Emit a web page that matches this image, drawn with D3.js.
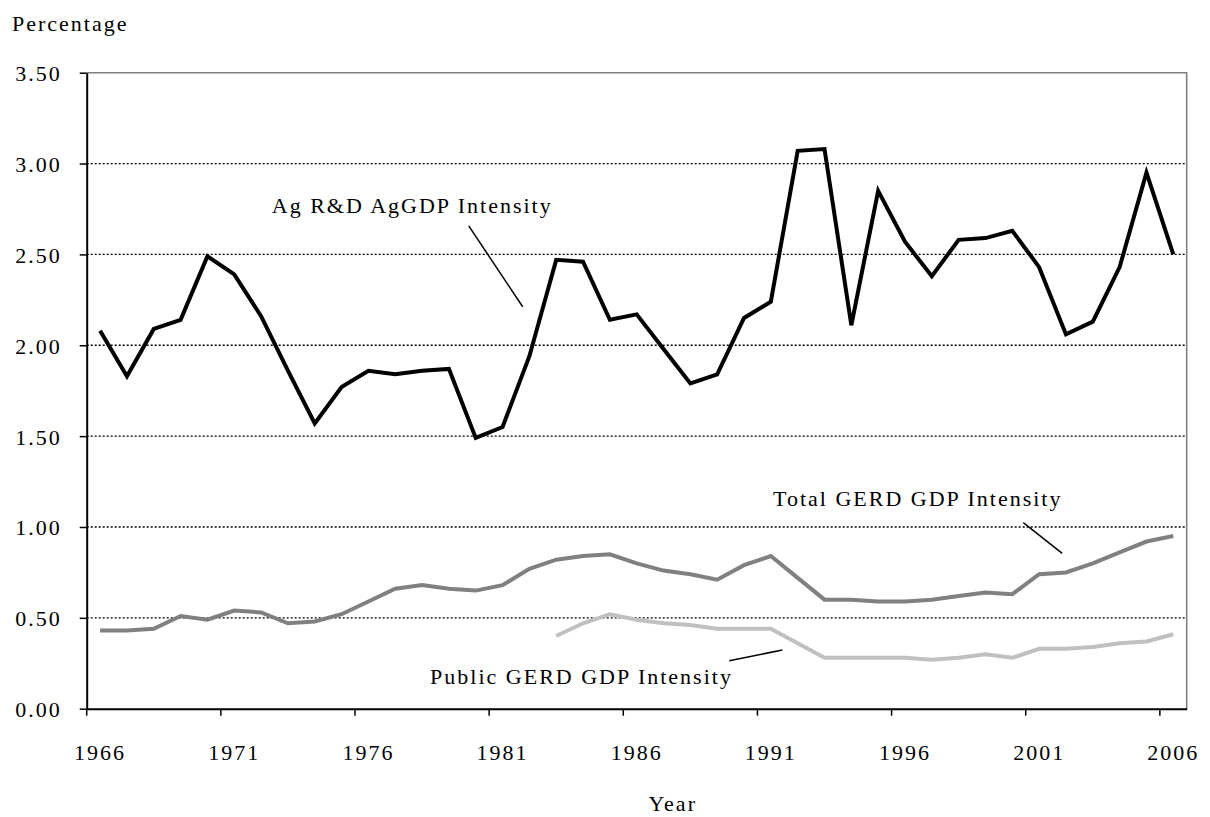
<!DOCTYPE html>
<html>
<head>
    <style>
        body { margin: 0; background: #fff; }
        svg text {
            font-family: "Liberation Serif", "Times New Roman", serif;
            font-size: 22px;
            letter-spacing: 2px;
            fill: #000;
        }
        .grid line { stroke: #000; stroke-width: 1.3; stroke-dasharray: 2,2; }
    </style>
    <script src="https://d3js.org/d3.v7.min.js"></script>
</head>
<body>
    <svg width="1210" height="817"></svg>

    <script>
        // data
        var years = d3.range(1966, 2007);
        var agIntensity = [2.08,1.83,2.09,2.14,2.49,2.39,2.16,1.86,1.57,1.77,1.86,1.84,1.86,1.87,1.49,1.55,1.94,2.47,2.46,2.14,
                           2.17,1.98,1.79,1.84,2.15,2.24,3.07,3.08,2.11,2.85,2.57,2.38,2.58,2.59,2.63,2.43,2.06,2.13,2.43,2.95,2.50];
        var totalGerd = [0.43,0.43,0.44,0.51,0.49,0.54,0.53,0.47,0.48,0.52,0.59,0.66,0.68,0.66,0.65,0.68,0.77,0.82,0.84,0.85,
                         0.80,0.76,0.74,0.71,0.79,0.84,0.72,0.60,0.60,0.59,0.59,0.60,0.62,0.64,0.63,0.74,0.75,0.80,0.86,0.92,0.95];
        var publicGerd = [null,null,null,null,null,null,null,null,null,null,null,null,null,null,null,null,null,
                          0.40,0.47,0.52,0.49,0.47,0.46,0.44,0.44,0.44,0.36,0.28,0.28,0.28,0.28,0.27,0.28,0.30,0.28,0.33,0.33,0.34,0.36,0.37,0.41];
        var yTicks = [0, 0.5, 1, 1.5, 2, 2.5, 3, 3.5];
        var xLabels = [1966, 1971, 1976, 1981, 1986, 1991, 1996, 2001, 2006];

        var svg = d3.select("svg"),
            plotL = 86.7, plotR = 1186.7, plotT = 72.7, plotB = 708.7;

        var x = d3.scaleBand().domain(years).range([plotL, plotR]).padding(0);
        var bw = x.bandwidth();
        // position in band units, used for the callouts
        var xu = d3.scaleLinear().domain([0, years.length]).range([plotL, plotR]);
        var y = d3.scaleLinear().domain([0, 3.5]).range([plotB, plotT]);

        // gridlines
        svg.append("g").attr("class", "grid")
           .selectAll("line")
           .data(yTicks.filter(function(d) { return d > 0 && d < 3.5; }))
           .enter().append("line")
           .attr("x1", plotL).attr("x2", plotR)
           .attr("y1", function(d) { return y(d); })
           .attr("y2", function(d) { return y(d); });

        // plot border (top and right)
        svg.append("path")
           .attr("d", "M" + plotL + "," + plotT + "H" + plotR + "V" + plotB)
           .attr("fill", "none").attr("stroke", "#808080").attr("stroke-width", 1.6);

        // y axis
        var yAxis = svg.append("g")
           .attr("transform", "translate(" + plotL + ",0)")
           .call(d3.axisLeft(y).tickValues(yTicks).tickFormat(d3.format(".2f")).tickSize(7).tickPadding(18).tickSizeOuter(0));
        yAxis.select(".domain").attr("stroke", "#000").attr("stroke-width", 2);
        yAxis.selectAll(".tick line").attr("stroke", "#000").attr("stroke-width", 1.5);
        yAxis.selectAll("text").attr("font-family", null).attr("font-size", null).attr("dy", "0.36em");

        // x axis, ticks between categories
        var xAxis = svg.append("g")
           .attr("transform", "translate(0," + plotB + ")")
           .call(d3.axisBottom(x).tickValues(xLabels).tickSize(7).tickSizeOuter(0));
        xAxis.select(".domain").attr("stroke", "#000").attr("stroke-width", 2);
        xAxis.selectAll(".tick line")
             .attr("x1", -bw / 2).attr("x2", -bw / 2)
             .attr("stroke", "#000").attr("stroke-width", 1.5);
        xAxis.selectAll("text")
             .attr("font-family", null).attr("font-size", null)
             .attr("y", 51).attr("dy", 0);

        // axis titles
        svg.append("text").attr("x", 12).attr("y", 31).text("Percentage");
        svg.append("text").attr("x", (plotL + plotR) / 2 + 36).attr("y", 811)
           .attr("text-anchor", "middle").text("Year");

        // lines
        function drawLine(values, color) {
            var line = d3.line()
                .defined(function(d) { return d != null; })
                .x(function(d, i) { return x(years[i]) + bw / 2; })
                .y(function(d) { return y(d); });
            svg.append("path")
               .datum(values)
               .attr("d", line)
               .attr("fill", "none")
               .attr("stroke", color)
               .attr("stroke-width", 4)
               .attr("stroke-linejoin", "miter");
        }
        drawLine(totalGerd, "#808080");
        drawLine(publicGerd, "#c0c0c0");
        drawLine(agIntensity, "#000");

        // callouts: text position and leader line, in band units / values
        var notes = [
            { text: "Ag R&D AgGDP Intensity", tx: 6.90, ty: 2.73, l: [14.24, 2.657, 16.25, 2.212] },
            { text: "Total GERD GDP Intensity", tx: 25.58, ty: 1.116, l: [34.91, 1.024, 36.36, 0.855] },
            { text: "Public GERD GDP Intensity", tx: 12.80, ty: 0.136, l: [23.95, 0.264, 25.93, 0.323] }
        ];
        var note = svg.selectAll(".note").data(notes).enter().append("g").attr("class", "note");
        note.append("text")
            .attr("x", function(d) { return xu(d.tx); })
            .attr("y", function(d) { return y(d.ty); })
            .text(function(d) { return d.text; });
        note.append("line")
            .attr("x1", function(d) { return xu(d.l[0]); })
            .attr("y1", function(d) { return y(d.l[1]); })
            .attr("x2", function(d) { return xu(d.l[2]); })
            .attr("y2", function(d) { return y(d.l[3]); })
            .attr("stroke", "#000").attr("stroke-width", 1.5);
    </script>
</body>
</html>
